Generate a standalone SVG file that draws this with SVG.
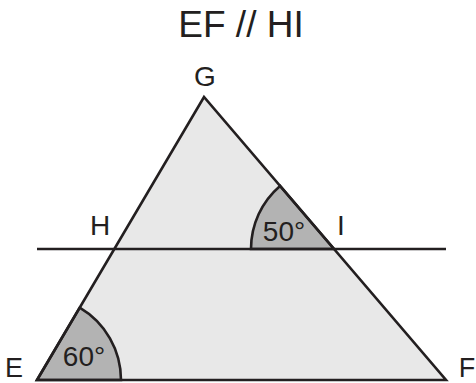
<svg xmlns="http://www.w3.org/2000/svg" width="476" height="383" viewBox="0 0 476 383">
  <style>
    .ln { stroke: #231f20; stroke-width: 2.6; fill: none; stroke-linejoin: miter; }
    .sec { fill: #b3b3b3; stroke: #231f20; stroke-width: 2.6; }
    .lbl { font-family: "Liberation Sans", Arial, sans-serif; font-size: 28px; fill: #231f20; text-anchor: middle; }
    .corner { font-size: 27px; }
    .title { font-family: "Liberation Sans", Arial, sans-serif; font-size: 37px; fill: #231f20; text-anchor: middle; }
  </style>
  <rect width="476" height="383" fill="#ffffff"/>
  <text class="title" x="241" y="37">EF // HI</text>
  <g id="triangle">
    <polygon points="37,380 446,380 204,97" fill="#e8e8e8" stroke="none"/>
  </g>
  <g id="angleE">
    <path class="sec" d="M37,380 L121,380 A84,84 0 0,0 79.7,307.7 Z"/>
    <text class="lbl" x="84" y="366">60°</text>
  </g>
  <g id="angleI">
    <path class="sec" d="M334,249 L251,249 A83,83 0 0,1 280.05,185.9 Z"/>
    <text class="lbl" x="284" y="241">50°</text>
  </g>
  <g id="connectors">
    <polygon class="ln" points="37,380 446,380 204,97"/>
    <line class="ln" x1="37" y1="249" x2="446" y2="249"/>
  </g>
  <g id="G"><text class="lbl" x="205" y="86">G</text></g>
  <g id="H"><text class="lbl" x="100" y="235">H</text></g>
  <g id="I"><text class="lbl" x="341" y="235">I</text></g>
  <g id="E"><text class="lbl corner" x="14" y="377">E</text></g>
  <g id="F"><text class="lbl corner" x="467" y="377">F</text></g>
</svg>
